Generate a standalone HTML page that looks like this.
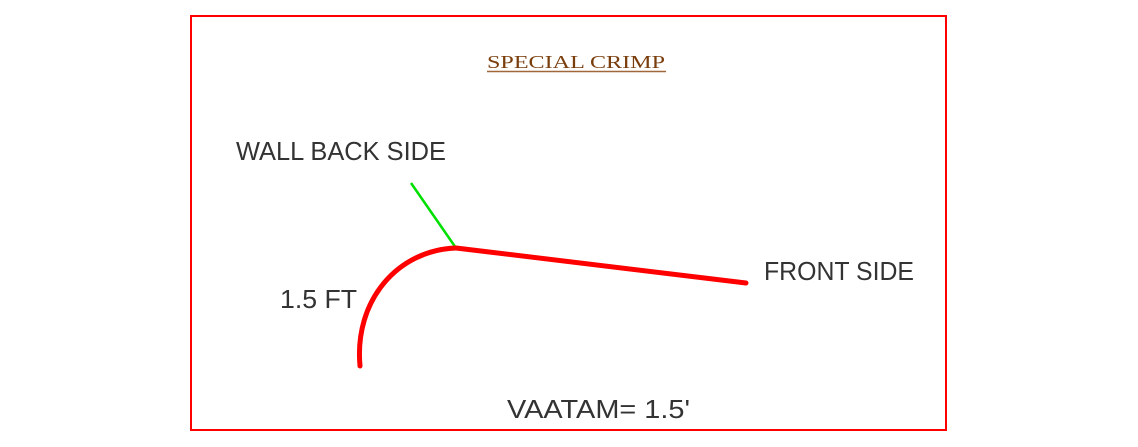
<!DOCTYPE html>
<html><head><meta charset="utf-8"><style>
html,body{margin:0;padding:0;background:#fff;}
svg{display:block;}
</style></head><body>
<svg width="1138" height="447" viewBox="0 0 1138 447" xmlns="http://www.w3.org/2000/svg">
  <rect x="191" y="16" width="755" height="414" fill="none" stroke="#ff0000" stroke-width="2"/>
  <text x="487" y="68" font-family="Liberation Serif, serif" font-size="18" fill="#7a3d0c" textLength="178" lengthAdjust="spacingAndGlyphs">SPECIAL  CRIMP</text>
  <line x1="487" y1="71.5" x2="666" y2="71.5" stroke="#a0683a" stroke-width="1.5"/>
  <text x="236" y="160" font-family="Liberation Sans, sans-serif" font-size="26" fill="#333" textLength="210" lengthAdjust="spacingAndGlyphs">WALL BACK SIDE</text>
  <text x="764" y="280" font-family="Liberation Sans, sans-serif" font-size="26" fill="#333" textLength="150" lengthAdjust="spacingAndGlyphs">FRONT SIDE</text>
  <text x="280" y="308" font-family="Liberation Sans, sans-serif" font-size="26" fill="#333" textLength="77" lengthAdjust="spacingAndGlyphs">1.5 FT</text>
  <text x="507" y="418" font-family="Liberation Sans, sans-serif" font-size="26" fill="#333" textLength="183" lengthAdjust="spacingAndGlyphs">VAATAM= 1.5'</text>
  <line x1="411" y1="183" x2="456" y2="248" stroke="#00e000" stroke-width="2.5"/>
  <path d="M360,366 C354,300 398,250 456,248" fill="none" stroke="#ff0000" stroke-width="5" stroke-linecap="round"/>
  <line x1="456" y1="248" x2="746" y2="283" stroke="#ff0000" stroke-width="5" stroke-linecap="round"/>
</svg>
</body></html>
